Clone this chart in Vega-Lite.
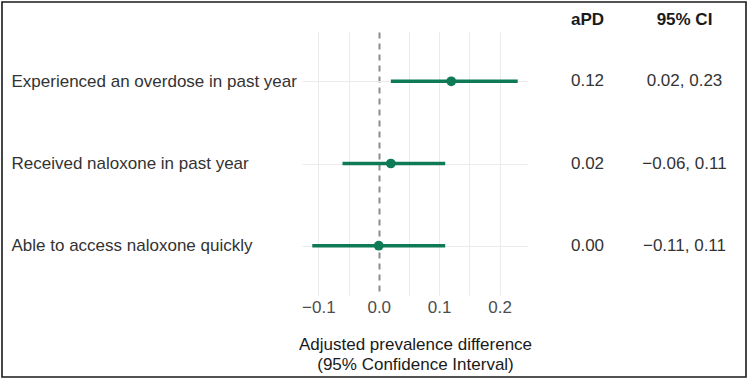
{
  "$schema": "https://vega.github.io/schema/vega-lite/v6.json",
  "width": 744,
  "height": 375,
  "autosize": {"type": "none"},
  "padding": {"left": 2, "top": 2, "right": 3, "bottom": 3},
  "background": "white",
  "config": {
    "font": "Liberation Sans",
    "view": {"stroke": "#1a1a1a", "strokeWidth": 1.6, "fill": "white"}
  },
  "data": {
    "values": [
      {"outcome": "Experienced an overdose in past year", "estimate": 0.12, "lower": 0.02, "upper": 0.23},
      {"outcome": "Received naloxone in past year", "estimate": 0.02, "lower": -0.06, "upper": 0.11},
      {"outcome": "Able to access naloxone quickly", "estimate": 0.0, "lower": -0.11, "upper": 0.11}
    ]
  },
  "resolve": {"scale": {"x": "independent"}, "axis": {"y": "independent"}},
  "layer": [
    {
      "encoding": {
        "y": {
          "field": "outcome",
          "type": "nominal",
          "sort": null,
          "scale": {"type": "point", "range": [30, 293], "padding": 0.6},
          "axis": {
            "title": null,
            "domain": false,
            "ticks": false,
            "labelAlign": "left",
            "labelPadding": -9,
            "labelFontSize": 17,
            "labelColor": "#333333",
            "labelLimit": 400,
            "grid": true,
            "gridColor": "#ebebeb",
            "gridWidth": 1
          }
        }
      },
      "resolve": {"axis": {"x": "independent"}},
      "layer": [
        {
          "mark": {"type": "rule", "color": "#0f7a56", "strokeWidth": 3.6},
          "encoding": {
            "x": {
              "field": "lower",
              "type": "quantitative",
              "scale": {"domain": [-0.127, 0.247], "range": [300, 526], "nice": false, "zero": false},
              "axis": {
                "orient": "bottom",
                "offset": -82,
                "title": ["Adjusted prevalence difference", "(95% Confidence Interval)"],
                "titleFontSize": 17,
                "titleFontWeight": "normal",
                "titleColor": "#1a1a1a",
                "titleLineHeight": 20,
                "titlePadding": 21,
                "values": [-0.1, 0, 0.1, 0.2],
                "format": ".1f",
                "labelFontSize": 17,
                "labelColor": "#4d4d4d",
                "labelPadding": 4,
                "labelFlush": false,
                "labelOverlap": false,
                "domain": false,
                "ticks": false,
                "grid": false
              }
            },
            "x2": {"field": "upper"}
          }
        },
        {
          "mark": {"type": "point", "filled": true, "opacity": 1, "size": 95, "color": "#0f7a56"},
          "encoding": {
            "x": {
              "field": "estimate",
              "type": "quantitative",
              "axis": {
                "orient": "top",
                "title": null,
                "labels": false,
                "ticks": false,
                "domain": false,
                "values": [-0.1, -0.05, 0, 0.05, 0.1, 0.15, 0.2],
                "grid": true,
                "gridColor": {"condition": {"test": "datum.value === 0", "value": "#8c8c8c"}, "value": "#ebebeb"},
                "gridWidth": {"condition": {"test": "datum.value === 0", "value": 2}, "value": 1},
                "gridDash": {"condition": {"test": "datum.value === 0", "value": [6, 5]}, "value": []}
              }
            }
          }
        }
      ]
    },
    {
      "transform": [
        {"calculate": "format(datum.estimate, '.2f')", "as": "aPD"},
        {"calculate": "format(datum.lower, '.2f') + ', ' + format(datum.upper, '.2f')", "as": "95% CI"},
        {"fold": ["aPD", "95% CI"], "as": ["column", "label"]}
      ],
      "mark": {"type": "text", "fontSize": 17, "color": "#333333"},
      "encoding": {
        "y": {"field": "outcome", "type": "nominal", "sort": null, "axis": null},
        "x": {
          "field": "column",
          "type": "nominal",
          "sort": null,
          "scale": {"type": "band", "domain": ["aPD", "95% CI"], "range": [537, 731], "paddingInner": 0, "paddingOuter": 0},
          "axis": {
            "orient": "top",
            "offset": -30,
            "title": null,
            "domain": false,
            "ticks": false,
            "grid": false,
            "labelAngle": 0,
            "labelPadding": 4,
            "labelFontSize": 17,
            "labelFontWeight": "bold",
            "labelColor": "#1a1a1a"
          }
        },
        "text": {"field": "label"}
      }
    }
  ]
}
